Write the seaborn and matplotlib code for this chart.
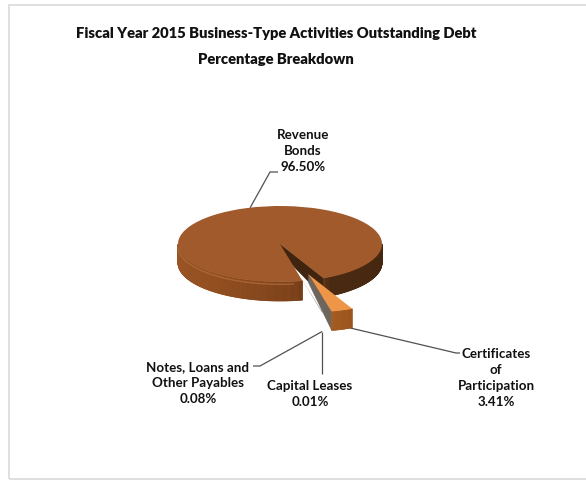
import numpy as np
import matplotlib
matplotlib.use("Agg")
import matplotlib.pyplot as plt
from matplotlib.collections import PolyCollection
from matplotlib.patches import Polygon, Rectangle
import seaborn as sns

# Outstanding debt by type, percent of total
categories = ["Revenue\nBonds", "Certificates\nof\nParticipation",
              "Notes, Loans and\nOther Payables", "Capital Leases"]
shares = [96.50, 3.41, 0.08, 0.01]
explode = [0.0, 0.85, 0.85, 0.85]

title_lines = ["Fiscal Year 2015 Business-Type Activities Outstanding Debt",
               "Percentage Breakdown"]

sns.set_theme(style="white")
plt.rcParams["font.family"] = ["Lato", "DejaVu Sans"]
plt.rcParams["font.weight"] = "bold"

top_colors = ["#A05A2C", "#EF9547", "#6E655D", "#6E655D"]
# side shading (angle in degrees -> colour) for each slice
side_anchor_angles = [
    [180, 230, 275, 292, 300, 360],
    [270, 300],
    [270, 300],
    [270, 300],
]
side_anchor_colors = [
    ["#9C5628", "#934F20", "#7E4219", "#6A3816", "#4A2A12", "#45260F"],
    ["#AE6122", "#96521C"],
    ["#AE6122", "#96521C"],
    ["#AE6122", "#96521C"],
]
radial_colors = ["#40240F", "#6E655D", "#6E655D", "#6E655D"]

W, H = 586, 480
fig = plt.figure(figsize=(W / 100, H / 100), dpi=100)
fig.patch.set_facecolor("white")
ax = fig.add_axes([0, 0, 1, 1])

# pixel placement of the pie top: centre and the two semi-axes
CX, CY, RX, RY = 280, 244, 102, 38
DEPTH = 0.5          # slab thickness at the rim
APEX_DEPTH = 0.22    # thinner at the tip (receding toward the back)


def dx(p):
    return (p - CX) / RX


def dy(r):
    return (CY - r) / RY


wedges, _ = ax.pie(shares, explode=explode, startangle=282.8,
                   counterclock=False, colors=top_colors,
                   wedgeprops=dict(linewidth=0))
ax.set_aspect("auto")
ax.set_xlim(dx(0), dx(W))
ax.set_ylim(dy(H), dy(0))
ax.axis("off")


def shade(i, a):
    a = a % 360
    angs = side_anchor_angles[i]
    cols = np.array([matplotlib.colors.to_rgb(c) for c in side_anchor_colors[i]])
    return tuple(np.interp(a, angs, cols[:, k]) for k in range(3))


def rim_point(cx, cy, r, a):
    t = np.deg2rad(a)
    return cx + r * np.cos(t), cy + r * np.sin(t)


for i, w in enumerate(wedges):
    cx, cy = w.center
    r = w.r
    t1, t2 = w.theta1, w.theta2
    # the pulled-out slices are stacked above the main body
    zb = 2 if explode[i] == 0 else 5
    if t2 - t1 < 1.0:
        # hairline slices get no visible thickness
        w.set_zorder(1)
        continue
    # radial faces facing the viewer
    for a, ny in ((t1, -np.cos(np.deg2rad(t1))), (t2, np.cos(np.deg2rad(t2)))):
        if ny < 0:
            px, py = rim_point(cx, cy, r, a)
            ax.add_patch(Polygon([(cx, cy), (px, py), (px, py - DEPTH),
                                  (cx, cy - APEX_DEPTH)], closed=True,
                                 facecolor=radial_colors[i],
                                 edgecolor=radial_colors[i], linewidth=0.4,
                                 zorder=zb))
    # outer rim, front half only
    n = max(2, int((t2 - t1) / 0.5) + 1)
    angs = np.linspace(t1, t2, n)
    quads, cols = [], []
    for a, b in zip(angs[:-1], angs[1:]):
        m = 0.5 * (a + b)
        if np.sin(np.deg2rad(m)) < 0:
            p1 = rim_point(cx, cy, r, a)
            p2 = rim_point(cx, cy, r, b)
            quads.append([p1, p2, (p2[0], p2[1] - DEPTH), (p1[0], p1[1] - DEPTH)])
            cols.append(shade(i, m))
    if quads:
        ax.add_collection(PolyCollection(quads, facecolors=cols, edgecolors=cols,
                                         linewidths=0.5, zorder=zb + 1))
    w.set_zorder(zb + 2)

# soft highlight along the lit front-left edge of the main slab
w0 = wedges[0]
hl = np.linspace(182, min(w0.theta2, 278), 120)
hx, hy = rim_point(*w0.center, w0.r, hl)
ax.plot(hx, hy - 0.06, color="#B06A38", linewidth=1.0, alpha=0.8, zorder=3.5,
        solid_capstyle="butt")

# title
for k, ty in enumerate((33, 60)):
    fig.text(276 / W, 1 - ty / H, title_lines[k], ha="center", va="center",
             fontsize=10.6, fontweight="heavy", color="#111111")

label_text = [f"{c}\n{s:.2f}%" for c, s in zip(categories, shares)]
label_pos = [(303, 151), (496, 378), (198, 383), (310, 394)]
for txt, (lx, ly) in zip(label_text, label_pos):
    ax.text(dx(lx), dy(ly), txt, ha="center", va="center", fontsize=9.6,
            fontweight="bold", color="#111111", linespacing=1.4, zorder=20)

# leader lines
line_kw = dict(color="#505050", linewidth=0.9, zorder=19,
               solid_capstyle="butt")
rev_start = rim_point(*wedges[0].center, wedges[0].r, 107)
ax.plot([rev_start[0], dx(270), dx(278)], [rev_start[1], dy(172), dy(172)], **line_kw)
cx1, cy1 = wedges[1].center
cert_start = rim_point(cx1, cy1, wedges[1].r, wedges[1].theta2 - 1)
ax.plot([cert_start[0], dx(456), dx(460)],
        [cert_start[1] - DEPTH, dy(353), dy(353)], **line_kw)
small = rim_point(*wedges[2].center, wedges[2].r, wedges[2].theta1)
ax.plot([small[0], small[0]], [small[1] - DEPTH, dy(374)], **line_kw)
ax.plot([small[0], dx(260), dx(253)], [small[1] - DEPTH, dy(366), dy(366)], **line_kw)

# chart frame
fig.add_artist(Rectangle((9.5 / W, 1 - 479 / H), (W + 10) / W, (479 - 4.5) / H,
                         transform=fig.transFigure, fill=False,
                         edgecolor="#D9D9D9", linewidth=1.2))

fig.savefig("out.png", dpi=100, facecolor="white")
